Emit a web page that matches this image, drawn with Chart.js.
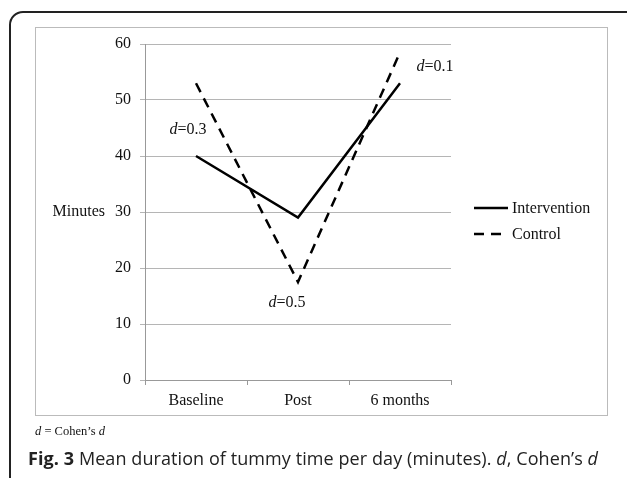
<!DOCTYPE html>
<html><head><meta charset="utf-8">
<script src="https://cdn.jsdelivr.net/npm/chart.js@4/dist/chart.umd.min.js"></script>
<style>
html,body{margin:0;padding:0;background:#fff;}
#wrap{position:relative;width:627px;height:478px;overflow:hidden;background:#fff;}
#outer{position:absolute;left:9px;top:11px;width:700px;height:600px;border:2px solid #222;border-radius:14px;box-sizing:border-box;}
#inner{position:absolute;left:35px;top:27px;width:573px;height:389px;border:1.5px solid #bbb;box-sizing:border-box;}
#c{position:absolute;left:0;top:0;}
#foot{position:absolute;left:35px;top:424px;font:12.5px "Liberation Serif",serif;color:#111;white-space:nowrap;}
#cap{position:absolute;left:28px;top:446px;font:18px "Open Sans",sans-serif;color:#222;white-space:nowrap;letter-spacing:0.08px;}
</style></head>
<body><div id="wrap">
<div id="outer"></div><div id="inner"></div>
<canvas id="c" width="627" height="478"></canvas>
<div id="foot"><i>d</i> = Cohen’s <i>d</i></div>
<div id="cap"><b>Fig. 3</b> Mean duration of tummy time per day (minutes). <i>d</i>, Cohen’s <i>d</i></div>
</div>
<script>
const categories = ['Baseline', 'Post', '6 months'];
const interventionValues = [40, 29, 53];
const controlValues = [53, 17.5, 58.5];
const yTicks = [0, 10, 20, 30, 40, 50, 60];
const effectLabels = ['0.3', '0.5', '0.1'];
const effectLabelValues = [44.6, 13.8, 55.9];
const seriesNames = ['Intervention', 'Control'];

const SERIF = '16px "Liberation Serif", serif';
const ISERIF = 'italic 16px "Liberation Serif", serif';
const effectOffsets = [-8, -11, 35];

const extras = {
  id: 'extras',
  afterDraw(chart) {
    const ctx = chart.ctx, x = chart.scales.x, y = chart.scales.y;
    ctx.save();
    ctx.fillStyle = '#111';
    ctx.textBaseline = 'middle';
    effectLabels.forEach((lab, i) => {
      ctx.font = ISERIF;
      const w1 = ctx.measureText('d').width;
      ctx.font = SERIF;
      const w2 = ctx.measureText('=' + lab).width;
      const cx = x.getPixelForValue(i) + effectOffsets[i];
      const cy = y.getPixelForValue(effectLabelValues[i]);
      const sx = cx - (w1 + w2) / 2;
      ctx.textAlign = 'left';
      ctx.font = ISERIF; ctx.fillText('d', sx, cy);
      ctx.font = SERIF; ctx.fillText('=' + lab, sx + w1, cy);
    });
    ctx.font = SERIF;
    ctx.textAlign = 'right';
    ctx.fillText('Minutes', 105, y.getPixelForValue(30));
    const lx0 = 474, lx1 = 508;
    const rows = [208, 234];
    chart.data.datasets.forEach((ds, i) => {
      ctx.beginPath();
      ctx.strokeStyle = '#000';
      ctx.lineWidth = 2.5;
      ctx.setLineDash(ds.borderDash || []);
      ctx.moveTo(lx0, rows[i]); ctx.lineTo(lx1, rows[i]);
      ctx.stroke();
      ctx.setLineDash([]);
      ctx.textAlign = 'left';
      ctx.font = SERIF;
      ctx.fillText(ds.label, lx1 + 4, rows[i] + 1);
    });
    ctx.restore();
  }
};

new Chart(document.getElementById('c'), {
  type: 'line',
  data: {
    labels: categories,
    datasets: [
      { label: seriesNames[0], data: interventionValues, borderColor: '#000', borderWidth: 2.5, pointRadius: 0, tension: 0, fill: false },
      { label: seriesNames[1], data: controlValues, borderColor: '#000', borderWidth: 2.5, borderDash: [10, 7], pointRadius: 0, tension: 0, fill: false }
    ]
  },
  options: {
    responsive: false,
    animation: false,
    devicePixelRatio: 1,
    layout: { padding: { left: 0, right: 176, top: 44, bottom: 0 } },
    plugins: { legend: { display: false }, tooltip: { enabled: false } },
    scales: {
      x: {
        offset: true,
        grid: { offset: true, drawOnChartArea: false, drawTicks: true, tickLength: 5, color: '#999', lineWidth: 1 },
        border: { display: true, color: '#999', width: 1 },
        ticks: { color: '#111', font: { family: '"Liberation Serif", serif', size: 16 }, padding: 6, maxRotation: 0 },
        afterFit(s) { s.height = 98; }
      },
      y: {
        min: 0, max: 60,
        afterBuildTicks(s) { s.ticks = yTicks.map(v => ({ value: v })); },
        grid: { color: '#b5b5b5', lineWidth: 1, drawTicks: true, tickLength: 5 },
        border: { display: true, color: '#999', width: 1 },
        ticks: { color: '#111', font: { family: '"Liberation Serif", serif', size: 16 }, padding: 9 },
        afterFit(s) { s.width = 145; }
      }
    }
  },
  plugins: [extras]
});
</script>
</body></html>
